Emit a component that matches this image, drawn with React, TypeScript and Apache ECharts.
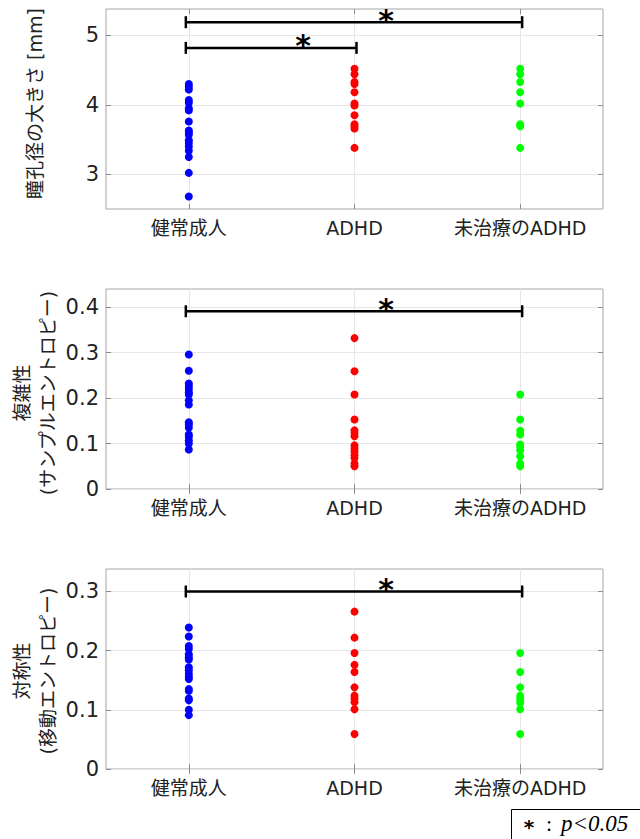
import React, { useEffect, useRef } from "react";
import * as echarts from "echarts";

const categories = ["健常成人", "ADHD", "未治療のADHD"];
const groupColors = ["#0000ff", "#ff0000", "#00ff00"];

// Panel 1: pupil size [mm]
const pupilHealthy = [4.30, 4.26, 4.22, 4.07, 4.03, 3.95, 3.92, 3.76, 3.63, 3.60, 3.57, 3.49, 3.45, 3.40, 3.34, 3.25, 3.02, 2.68];
const pupilADHD = [4.52, 4.44, 4.33, 4.30, 4.18, 4.02, 3.99, 3.85, 3.72, 3.69, 3.66, 3.38];
const pupilUntreated = [4.52, 4.44, 4.33, 4.18, 4.02, 3.72, 3.69, 3.38];

// Panel 2: complexity (sample entropy)
const complexityHealthy = [0.296, 0.260, 0.232, 0.226, 0.220, 0.213, 0.208, 0.195, 0.186, 0.147, 0.142, 0.135, 0.120, 0.115, 0.107, 0.100, 0.087];
const complexityADHD = [0.332, 0.259, 0.208, 0.153, 0.129, 0.123, 0.116, 0.096, 0.089, 0.082, 0.074, 0.068, 0.056, 0.050];
const complexityUntreated = [0.208, 0.153, 0.128, 0.120, 0.098, 0.093, 0.085, 0.072, 0.056, 0.050];

// Panel 3: symmetry (transfer entropy)
const symmetryHealthy = [0.239, 0.224, 0.208, 0.203, 0.194, 0.189, 0.185, 0.172, 0.167, 0.161, 0.156, 0.152, 0.135, 0.132, 0.119, 0.116, 0.100, 0.091];
const symmetryADHD = [0.266, 0.222, 0.196, 0.176, 0.164, 0.138, 0.124, 0.119, 0.113, 0.101, 0.059];
const symmetryUntreated = [0.196, 0.164, 0.138, 0.124, 0.118, 0.112, 0.101, 0.059];

// tick labels
const pupilTicks = [3, 4, 5];
const complexityTicks = [0, 0.1, 0.2, 0.3, 0.4];
const symmetryTicks = [0, 0.1, 0.2, 0.3];

// significance brackets: [fromCategory, level, toCategory]
const pupilSig = [[0, 5.19, 2], [0, 4.82, 1]];
const complexitySig = [[0, 0.391, 2]];
const symmetrySig = [[0, 0.3, 2]];

const yTitles = ["瞳孔径の大きさ [mm]", "複雑性\n(サンプルエントロピー)", "対称性\n(移動エントロピー)"];
const legendText = "p<0.05";

const FONT = "'DejaVu Sans', 'Noto Sans CJK JP', sans-serif";

const panels = [
  { top: 9, min: 2.5, max: 5.38, ticks: pupilTicks, groups: [pupilHealthy, pupilADHD, pupilUntreated], sig: pupilSig, title: yTitles[0], titleX: 35, titleY: 103.5 },
  { top: 289, min: 0, max: 0.44, ticks: complexityTicks, groups: [complexityHealthy, complexityADHD, complexityUntreated], sig: complexitySig, title: yTitles[1], titleX: 35.3, titleY: 393 },
  { top: 569, min: 0, max: 0.338, ticks: symmetryTicks, groups: [symmetryHealthy, symmetryADHD, symmetryUntreated], sig: symmetrySig, title: yTitles[2], titleX: 35, titleY: 671 },
];

const GRID_LEFT = 106;
const GRID_W = 497;
const GRID_H = 200;
const frameColor = "#a6a6a6";
const gridLineColor = "#e6e6e6";
const tickColor = "#8c8c8c";

export default function App() {
  const ref = useRef<HTMLDivElement>(null);

  useEffect(() => {
    if (!ref.current) return;
    const chart = echarts.init(ref.current, null, { renderer: "svg" });

    const grid: any[] = [];
    const xAxis: any[] = [];
    const yAxis: any[] = [];
    const series: any[] = [];
    const graphic: any[] = [];

    panels.forEach((p, i) => {
      grid.push({ left: GRID_LEFT, top: p.top, width: GRID_W, height: GRID_H, show: true, borderColor: frameColor, borderWidth: 1, backgroundColor: "transparent" });
      xAxis.push({
        type: "category", gridIndex: i, data: categories, boundaryGap: true, position: "bottom",
        axisLine: { show: false },
        axisTick: { show: true, inside: true, alignWithLabel: true, length: 5, lineStyle: { color: tickColor } },
        axisLabel: { interval: 0, fontSize: 19, color: "#222", margin: 9, fontFamily: FONT },
        splitLine: { show: true, alignWithLabel: true, lineStyle: { color: gridLineColor, width: 1 } },
      });
      xAxis.push({
        type: "category", gridIndex: i, data: categories, boundaryGap: true, position: "top",
        axisLine: { show: false },
        axisTick: { show: true, inside: true, alignWithLabel: true, length: 5, lineStyle: { color: tickColor } },
        axisLabel: { show: false },
        splitLine: { show: false },
      });
      yAxis.push({
        type: "value", gridIndex: i, min: p.min, max: p.max, position: "left",
        axisLine: { show: false },
        axisTick: { show: true, inside: true, length: 5, customValues: p.ticks, lineStyle: { color: tickColor } },
        axisLabel: { customValues: p.ticks, fontSize: 21, color: "#222", margin: 7, fontFamily: FONT },
        splitLine: { show: true, lineStyle: { color: gridLineColor, width: 1 } },
      });
      yAxis.push({
        type: "value", gridIndex: i, min: p.min, max: p.max, position: "right",
        axisLine: { show: false },
        axisTick: { show: true, inside: true, length: 5, customValues: p.ticks, lineStyle: { color: tickColor } },
        axisLabel: { show: false },
        splitLine: { show: false },
      });
      p.groups.forEach((vals, g) => {
        series.push({
          type: "scatter", xAxisIndex: 2 * i, yAxisIndex: 2 * i,
          data: vals.map((v) => [g, v]),
          symbol: "circle", symbolSize: 8,
          itemStyle: { color: groupColors[g], opacity: 1 },
          silent: true, z: 5,
        });
      });
      series.push({
        type: "custom", xAxisIndex: 2 * i, yAxisIndex: 2 * i,
        data: p.sig, encode: { x: 0, y: 1 }, silent: true, z: 10, clip: false,
        renderItem: (params: any, api: any) => {
          const y = api.value(1);
          const p1 = api.coord([api.value(0), y]);
          const p2 = api.coord([api.value(2), y]);
          const band = api.size([1, 0])[0];
          const cap = 6;
          const style = { stroke: "#000", lineWidth: 2.5 };
          return {
            type: "group",
            children: [
              { type: "line", shape: { x1: p1[0] - 3, y1: p1[1], x2: p2[0] + 2, y2: p2[1] }, style },
              { type: "line", shape: { x1: p1[0] - 3, y1: p1[1] - cap, x2: p1[0] - 3, y2: p1[1] + cap }, style },
              { type: "line", shape: { x1: p2[0] + 2, y1: p2[1] - cap, x2: p2[0] + 2, y2: p2[1] + cap }, style },
              {
                type: "text", x: (p1[0] + p2[0]) / 2 + band * 0.19, y: p1[1] - 2,
                style: { text: "*", fontSize: 30, fontWeight: "bold", fontFamily: "'DejaVu Sans', sans-serif", fill: "#000", align: "center", verticalAlign: "middle" },
              },
            ],
          };
        },
      });
      graphic.push({
        type: "text", x: p.titleX, y: p.titleY, rotation: Math.PI / 2,
        style: { text: p.title, fontSize: 19, lineHeight: 26, fontFamily: FONT, fill: "#222", align: "center", verticalAlign: "middle" },
      });
    });

    graphic.push({ type: "rect", shape: { x: 511.5, y: 809.5, width: 140, height: 40 }, style: { fill: "#fff", stroke: "#000", lineWidth: 1 } });
    graphic.push({ type: "text", x: 529, y: 827, style: { text: "*", fontSize: 20, fontWeight: "bold", fontFamily: "'DejaVu Sans', sans-serif", fill: "#000", align: "center", verticalAlign: "middle" } });
    graphic.push({ type: "text", x: 549, y: 823, style: { text: ":", fontSize: 22, fontFamily: "'Liberation Serif', serif", fill: "#000", align: "center", verticalAlign: "middle" } });
    graphic.push({ type: "text", x: 561, y: 823, style: { text: legendText, fontSize: 23, fontStyle: "italic", fontFamily: "'Liberation Serif', serif", fill: "#000", align: "left", verticalAlign: "middle" } });

    chart.setOption({ animation: false, backgroundColor: "#fff", grid, xAxis, yAxis, series, graphic });
    return () => chart.dispose();
  }, []);

  return <div ref={ref} style={{ position: "absolute", left: 0, top: 0, width: 640, height: 839 }} />;
}
